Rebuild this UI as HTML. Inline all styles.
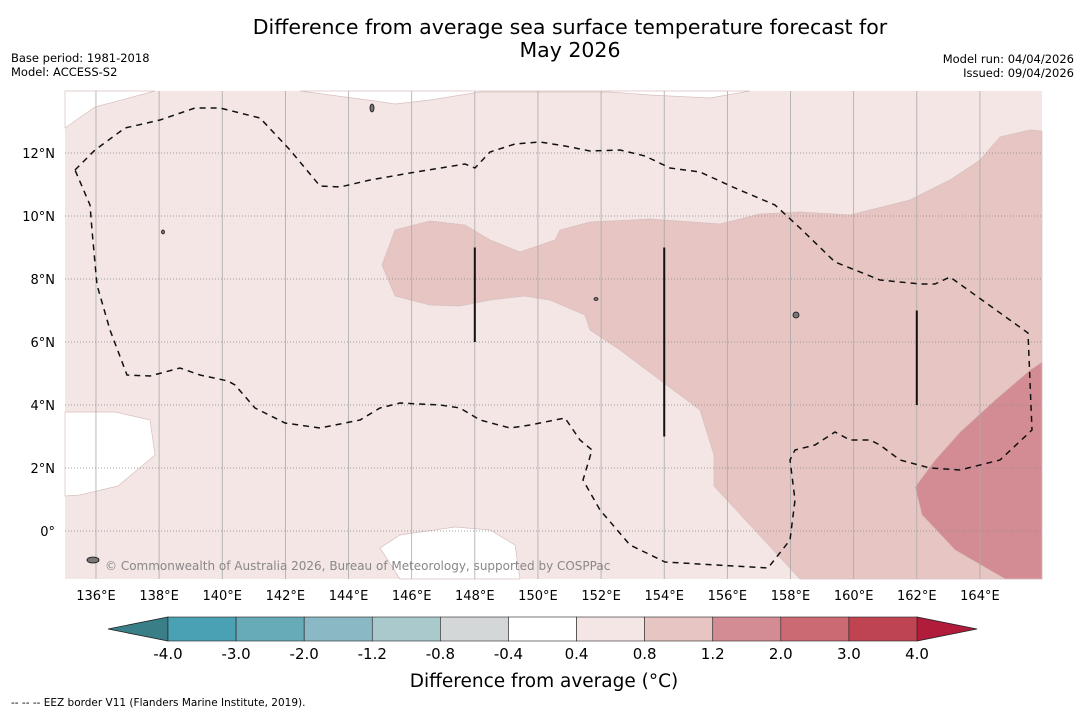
<!DOCTYPE html>
<html><head><meta charset="utf-8"><style>
body{margin:0;background:#fff;font-family:"DejaVu Sans","Liberation Sans",sans-serif}
</style></head><body>
<svg id="s" width="1085" height="713" xmlns="http://www.w3.org/2000/svg" font-family="DejaVu Sans, Liberation Sans, sans-serif">
<text x="570" y="34" font-size="20.5" text-anchor="middle">Difference from average sea surface temperature forecast for</text>
<text x="570" y="57" font-size="20.5" text-anchor="middle">May 2026</text>
<text x="11" y="62" font-size="11.5">Base period: 1981-2018</text>
<text x="11" y="76" font-size="11.5">Model: ACCESS-S2</text>
<text x="1074" y="63" font-size="11.5" text-anchor="end">Model run: 04/04/2026</text>
<text x="1074" y="77" font-size="11.5" text-anchor="end">Issued: 09/04/2026</text>
<g id="map"></g>
<g id="cb"></g>
<text x="544" y="687" font-size="18.5" text-anchor="middle">Difference from average (°C)</text>
<text x="11" y="706" font-size="10.5">--  --  -- EEZ border V11 (Flanders Marine Institute, 2019).</text>
</svg>
<script>
const lonTicks=[136,138,140,142,144,146,148,150,152,154,156,158,160,162,164];
const latTicks=[0,2,4,6,8,10,12];
const levels=["-4.0","-3.0","-2.0","-1.2","-0.8","-0.4","0.4","0.8","1.2","2.0","3.0","4.0"];
const levelColors=["#4aa1b3","#67abb8","#8ab8c4","#a9c9cd","#d3d7d8","#ffffff","#f3e6e5","#e6c5c2","#d48c94","#cc6a73","#bf4452"];
const lowColor="#3a7f87", highColor="#b01c3a";
const X0=65,X1=1042,Y0=91,Y1=579;
const px2lon=x=>135+(x-64.4)/31.57, px2lat=y=>(531-y)/31.5;
const xs=lon=>64.4+(lon-135)*31.57, ys=lat=>531-lat*31.5;
const P=a=>a.map(([x,y])=>[px2lon(x),px2lat(y)]);
const whiteTL=P([[65,91],[65,128],[95,107],[155,91]]);
const whiteTop=P([[300,91],[375,101],[395,104],[430,100],[480,92],[540,92],[610,92],[650,95],[710,98],[750,91]]);
const whiteLL=P([[65,412],[115,412],[150,420],[155,455],[118,486],[80,495],[65,496]]);
const whiteBot=P([[380,548],[400,535],[455,527],[490,530],[515,545],[520,579],[400,579]]);
const medRegion=P([[395,230],[430,221],[465,225],[490,240],[520,252],[555,240],[560,230],[590,222],[650,219],[720,224],[760,214],[800,212],[850,215],[910,200],[950,180],[980,160],[1000,137],[1030,130],[1042,131],[1042,579],[800,579],[714,486],[714,455],[700,410],[660,380],[620,350],[590,330],[585,315],[550,300],[525,296],[490,300],[460,306],[430,305],[395,296],[382,265]]);
const darkRegion=P([[1042,362],[1030,370],[995,400],[960,432],[935,460],[915,487],[922,515],[955,550],[1005,579],[1042,579]]);
const eez=P([[75,170],[95,150],[125,128],[160,120],[195,108],[220,108],[260,118],[290,150],[320,186],[340,187],[370,180],[410,173],[465,164],[475,168],[490,152],[515,144],[540,142],[565,146],[590,151],[620,150],[645,156],[670,168],[700,172],[735,188],[775,205],[800,228],[835,262],[880,280],[920,284],[935,284],[950,277],[1028,333],[1032,430],[1000,460],[960,470],[930,468],[900,460],[880,445],[870,440],[850,440],[835,432],[815,445],[795,450],[790,460],[795,500],[790,540],[768,568],[665,562],[630,545],[600,510],[583,480],[592,450],[580,440],[565,418],[530,425],[510,428],[480,420],[460,408],[440,405],[400,403],[380,408],[360,420],[320,428],[285,423],[255,408],[235,385],[228,381],[200,375],[180,368],[150,376],[127,375],[110,330],[97,285],[92,230],[90,205],[75,170]]);
const vlines=[[148,9,6],[154,9,3],[162,7,4]];
const NS="http://www.w3.org/2000/svg";
function mk(p,t,a){const e=document.createElementNS(NS,t);for(const k in a)e.setAttribute(k,a[k]);p.appendChild(e);return e;}
const pts=a=>a.map(([lo,la])=>xs(lo).toFixed(1)+","+ys(la).toFixed(1)).join(" ");
const map=document.getElementById("map");
let e=mk(map,"rect",{x:X0,y:Y0,width:X1-X0,height:Y1-Y0,fill:"#f3e6e5"});


[[whiteTL,"#fff","white-region-top-left"],[whiteTop,"#fff","white-region-top"],[whiteLL,"#fff","white-region-lower-left"],[whiteBot,"#fff","white-region-bottom"],[medRegion,"#e6c5c2","anomaly-0.8-1.2-region"],[darkRegion,"#d48c94","anomaly-1.2-2.0-region"]].forEach(([a,c,n])=>{
 const el=mk(map,"polygon",{points:pts(a),fill:c,stroke:"#d8c0bf","stroke-width":0.7});
 
 
});
lonTicks.forEach(l=>{
 const g=mk(map,"line",{x1:xs(l),x2:xs(l),y1:Y0,y2:Y1,stroke:"#aaa","stroke-width":0.8});
 
 
 const t=mk(map,"text",{x:xs(l),y:600,"font-size":13,"text-anchor":"middle"});t.textContent=l+"°E";
 
 
});
latTicks.forEach(l=>{
 const g=mk(map,"line",{x1:X0,x2:X1,y1:ys(l),y2:ys(l),stroke:"#888","stroke-width":0.8,"stroke-dasharray":"1,2"});
 
 
 const t=mk(map,"text",{x:55,y:ys(l)+5,"font-size":13,"text-anchor":"end"});t.textContent=l===0?"0°":l+"°N";
 
 
});
e=mk(map,"polyline",{points:pts(eez),fill:"none",stroke:"#111","stroke-width":1.5,"stroke-dasharray":"6,5"});


vlines.forEach(([lo,a,b])=>{
 const l=mk(map,"line",{x1:xs(lo),x2:xs(lo),y1:ys(a),y2:ys(b),stroke:"#111","stroke-width":2});
 
 
});
[[372,108,2,4],[93,560,6,3],[796,315,3,3],[163,232,1.5,2],[596,299,2,1.5]].forEach(([x,y,rx,ry])=>{
 const i=mk(map,"ellipse",{cx:x,cy:y,rx:rx,ry:ry,fill:"#777",stroke:"#111","stroke-width":0.8});
 
 
});
e=mk(map,"text",{x:105,y:570,"font-size":12,fill:"#888"});e.textContent="© Commonwealth of Australia 2026, Bureau of Meteorology, supported by COSPPac";


const cb=document.getElementById("cb");
const cx0=168,cx1=917,cy=617,ch=24,sw=(cx1-cx0)/levelColors.length;
e=mk(cb,"polygon",{points:`${cx0},${cy} ${cx0},${cy+ch} 108,${cy+ch/2}`,fill:lowColor,stroke:"#222","stroke-width":0.8});


e=mk(cb,"polygon",{points:`${cx1},${cy} ${cx1},${cy+ch} 977,${cy+ch/2}`,fill:highColor,stroke:"#222","stroke-width":0.8});


levelColors.forEach((c,i)=>{
 const r=mk(cb,"rect",{x:cx0+i*sw,y:cy,width:sw,height:ch,fill:c,stroke:"#222","stroke-width":0.6});
 
 
});
levels.forEach((l,i)=>{
 const t=mk(cb,"text",{x:cx0+i*sw,y:659,"font-size":15,"text-anchor":"middle"});t.textContent=l;
 
 
});
</script>
</body></html>
